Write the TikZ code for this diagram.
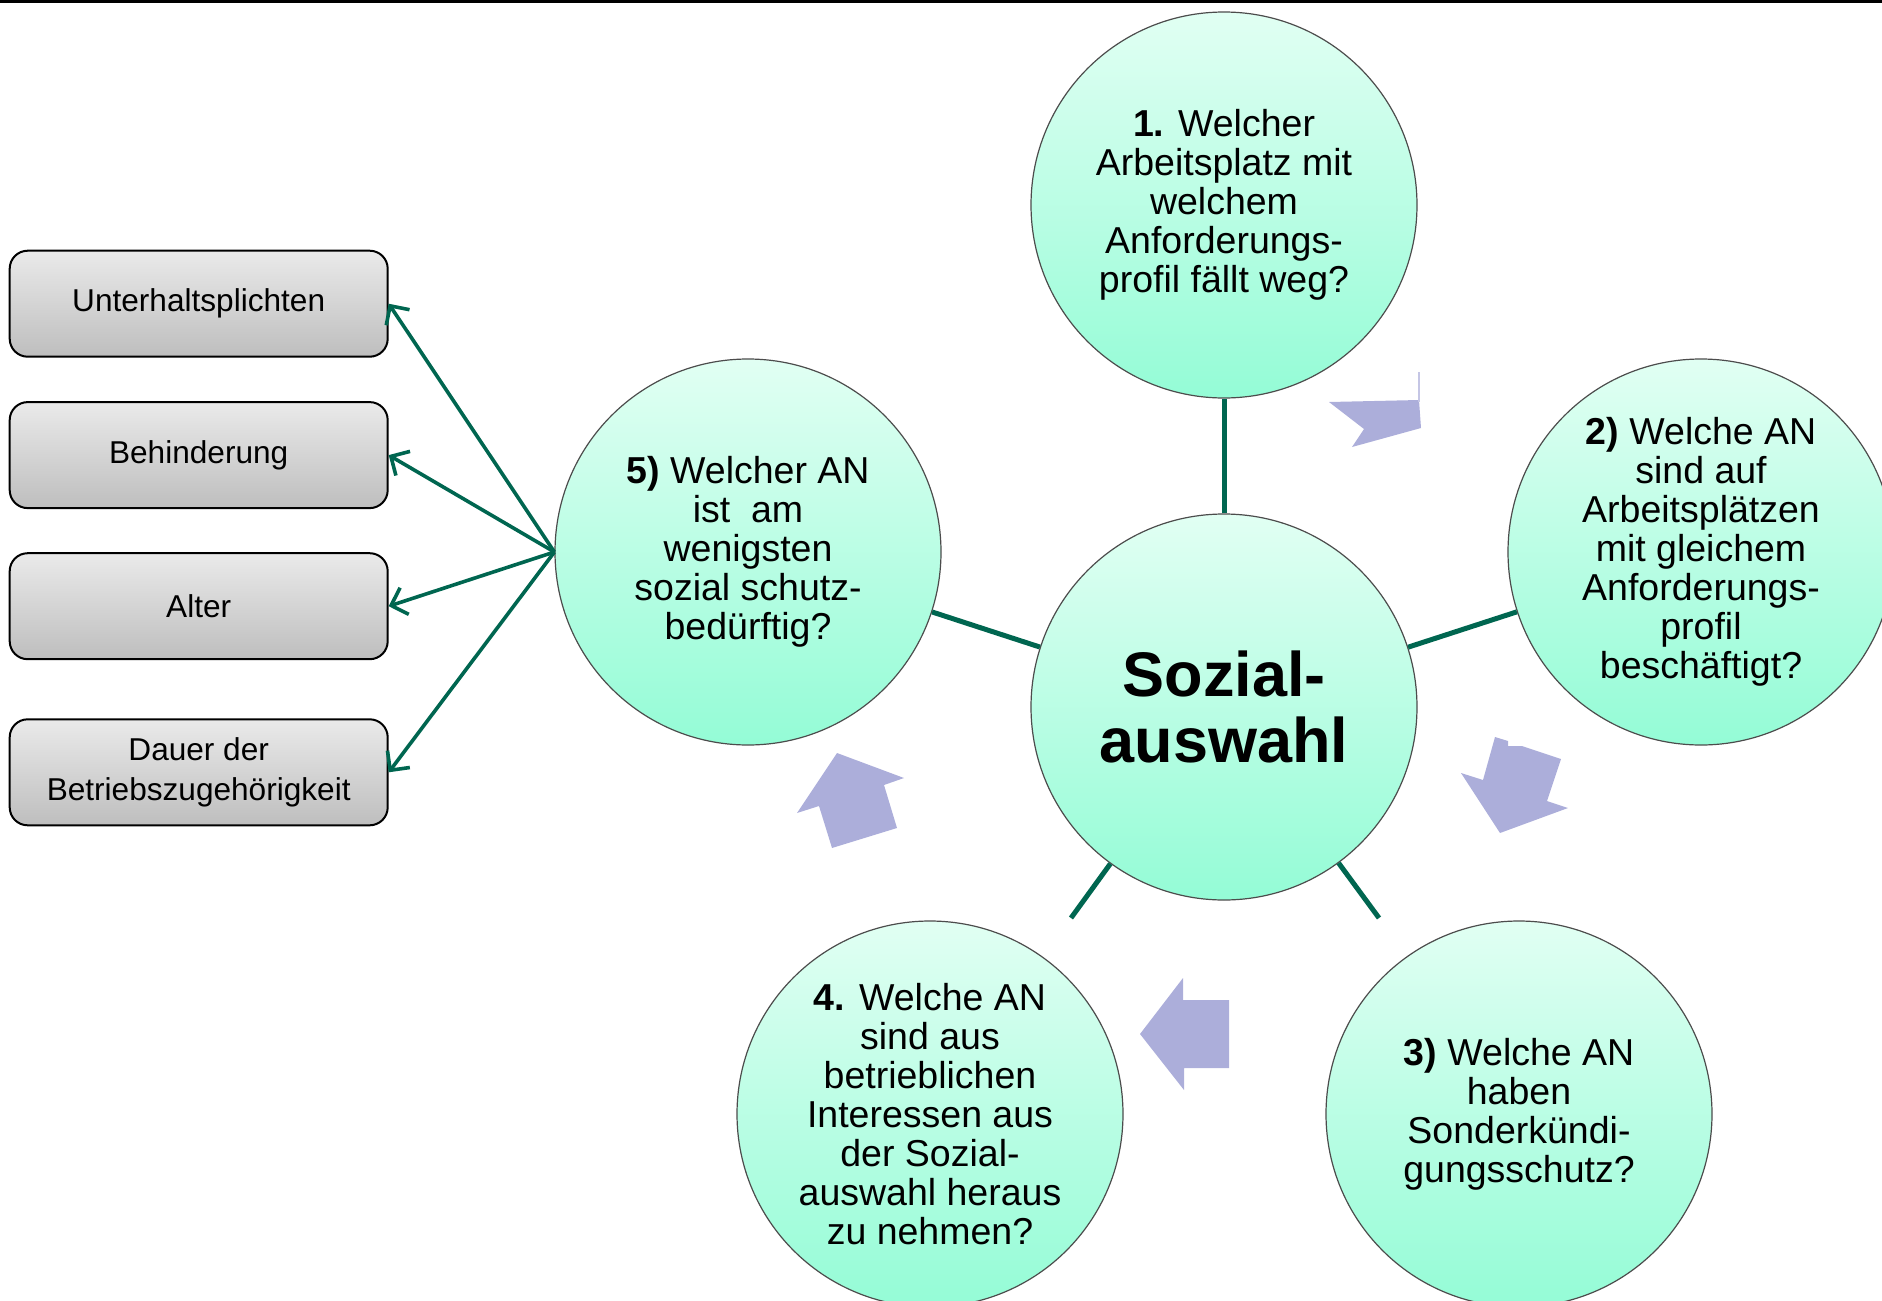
\documentclass[tikz,border=0pt]{standalone}
\usepackage{fontspec}
\setmainfont{Liberation Sans}
\usetikzlibrary{arrows.meta}
\definecolor{spoke}{RGB}{0,102,80}
\definecolor{mintT}{RGB}{225,255,243}
\definecolor{mintB}{RGB}{148,252,214}
\definecolor{lav}{RGB}{172,174,218}
\definecolor{boxT}{RGB}{234,234,234}
\definecolor{boxB}{RGB}{190,190,190}
\begin{document}
\begin{tikzpicture}[x=1pt,y=-1pt,
 bubble/.style={circle, minimum size=386pt, inner sep=0pt, draw=black!70, line width=1.2pt, top color=mintT, bottom color=mintB, align=center, font=\fontsize{37.5}{39}\selectfont},
 hub/.style={bubble, font=\fontsize{63}{66}\selectfont\bfseries},
 factor/.style={draw=black, line width=2pt, rounded corners=18pt, minimum width=378pt, minimum height=106pt, inner sep=0pt, top color=boxT, bottom color=boxB, align=center, font=\fontsize{31.6}{39.6}\selectfont},
 spokeline/.style={draw=spoke, line width=5pt},
 link/.style={draw=spoke, line width=3.6pt, -{Straight Barb[length=14pt,width=28pt]}},
 chevron/.style={fill=lav, draw=none}]
\useasboundingbox (0,0) rectangle (1882,1301);
\draw[line width=3pt] (0,1.5) -- (1882,1.5);

\node[hub] (c0) at (1224,707) {Sozial-\\auswahl};
\node[bubble] (c1) at (1224,205) {\textbf{1.} Welcher\\Arbeitsplatz mit\\welchem\\Anforderungs-\\profil fällt weg?};
\node[bubble] (c2) at (1701,552) {\textbf{2)} Welche AN\\sind auf\\Arbeitsplätzen\\mit gleichem\\Anforderungs-\\profil\\beschäftigt?};
\node[bubble] (c3) at (1519,1114) {\textbf{3)} Welche AN\\haben\\Sonderkündi-\\gungsschutz?};
\node[bubble] (c4) at (930,1114) {\textbf{4.} Welche AN\\sind aus\\betrieblichen\\Interessen aus\\der Sozial-\\auswahl heraus\\zu nehmen?};
\node[bubble] (c5) at (748,552) {\textbf{5)} Welcher AN\\ist~~am\\wenigsten\\sozial schutz-\\bedürftig?};

\coordinate (e3) at (1379,918);
\coordinate (e4) at (1071,918);
\draw[spokeline] (c0) -- (c1);
\draw[spokeline] (c0) -- (c2);
\draw[spokeline] (c0) -- (e3);
\draw[spokeline] (c0) -- (e4);
\draw[spokeline] (c0) -- (c5);

\node[factor] (f1) at (198.7,303.7) {Unterhaltsplichten};
\node[factor] (f2) at (198.7,455.1) {Behinderung};
\node[factor] (f3) at (198.7,606.2) {Alter};
\node[factor] (f4) at (198.7,772.3) {Dauer der\\Betriebszugehörigkeit};

\draw[link] (c5.west) -- (f1.east);
\draw[link] (c5.west) -- (f2.east);
\draw[link] (c5.west) -- (f3.east);
\draw[link] (c5.west) -- (f4.east);

\fill[chevron] (1329,402) -- (1419,400) -- (1421,428) -- (1352,447) -- (1364,429) -- cycle;
\draw[lav!70, line width=1.5pt] (1419,372) -- (1419,402);
\fill[chevron] (1495,737) -- (1508,741) -- (1508,746) -- (1522,746) -- (1561,759) -- (1547,801) -- (1568,808) -- (1500,833) -- (1461,773) -- (1483,780) -- cycle;
\fill[chevron] (1140,1034) -- (1183,978) -- (1183,1000) -- (1229,1000) -- (1229,1068) -- (1184,1068) -- (1184,1090) -- cycle;
\fill[chevron] (837,753) -- (904,778) -- (884,785) -- (897,828) -- (832,848) -- (819,806) -- (797,813) -- cycle;
\end{tikzpicture}
\end{document}
